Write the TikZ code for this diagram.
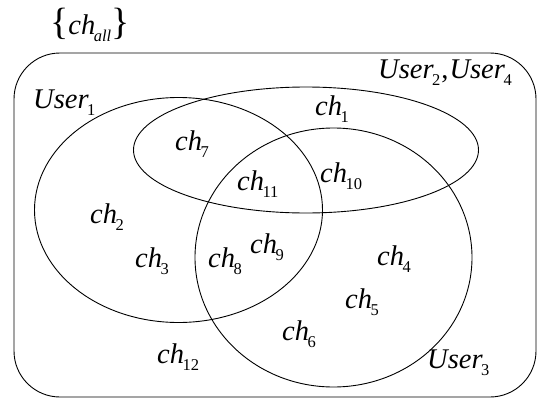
\documentclass[tikz,border=0pt]{standalone}
\usepackage{fontspec}
\setmainfont{Liberation Serif}
\newcommand\vlab[2]{\textit{#1}\kern-1.5pt\raisebox{-7.5pt}{\fontsize{16.5}{16.5}\selectfont #2}}
\begin{document}
\begin{tikzpicture}[x=1pt,y=-1pt,
  lab/.style={anchor=base west,inner sep=0pt,font=\fontsize{28.5}{28.5}\selectfont},
  setline/.style={line width=0.9pt,black}]
\useasboundingbox (0,0) rectangle (539,399);
\draw[setline,rounded corners=46pt] (14,53) rectangle (536,397);
\draw[setline] (178.5,210) ellipse [x radius=144pt,y radius=112.5pt];
\draw[setline] (306,150) ellipse [x radius=172.5pt,y radius=63pt];
\draw[setline] (333.5,257.5) ellipse [x radius=138.5pt,y radius=129.5pt];
\node[lab] (all) at (50,34) {{\fontsize{38}{38}\selectfont\{}\vlab{ch}{\textit{all}}{\fontsize{38}{38}\selectfont\}}};
\node[lab] (usr1) at (33,108) {\vlab{User}{1}};
\node[lab] (usr24) at (378,78) {\vlab{User}{2}\kern1pt,\kern1pt\vlab{User}{4}};
\node[lab] (usr3) at (427,368) {\vlab{User}{3}};
\node[lab] (c1) at (315,115) {\vlab{ch}{1}};
\node[lab] (c2) at (90,223) {\vlab{ch}{2}};
\node[lab] (c3) at (135,267) {\vlab{ch}{3}};
\node[lab] (c4) at (377,265) {\vlab{ch}{4}};
\node[lab] (c5) at (345,308) {\vlab{ch}{5}};
\node[lab] (c6) at (282,340) {\vlab{ch}{6}};
\node[lab] (c7) at (175,150) {\vlab{ch}{7}};
\node[lab] (c8) at (208,267) {\vlab{ch}{8}};
\node[lab] (c9) at (250,253) {\vlab{ch}{9}};
\node[lab] (c10) at (320,182) {\vlab{ch}{10}};
\node[lab] (c11) at (237,190) {\vlab{ch}{11}};
\node[lab] (c12) at (157,363) {\vlab{ch}{12}};
\end{tikzpicture}
\end{document}
